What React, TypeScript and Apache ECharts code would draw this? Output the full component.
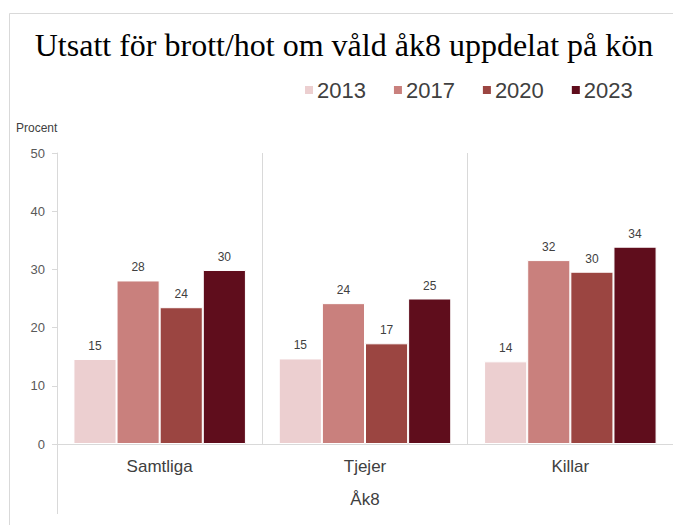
import React, { useEffect, useRef } from "react";
import * as echarts from "echarts";

const categories = ["Samtliga", "Tjejer", "Killar"];
const years = ["2013", "2017", "2020", "2023"];
const values2013 = [14.6, 14.7, 14.2];
const values2017 = [28.1, 24.2, 31.6];
const values2020 = [23.5, 17.3, 29.6];
const values2023 = [29.9, 25.0, 33.9];
const yTicks = [0, 10, 20, 30, 40, 50];
const colors = ["#ECCFD0", "#C9807D", "#9B4541", "#5F0D1C"];

const titleText = "Utsatt för brott/hot om våld åk8 uppdelat på kön";
const axisFont = "'Liberation Sans Narrow', 'Liberation Sans', Arial, sans-serif";

export default function App() {
  const ref = useRef<HTMLDivElement>(null);
  useEffect(() => {
    document.body.style.margin = "0";
    if (!ref.current) return;
    const chart = echarts.init(ref.current, null, { renderer: "svg" });
    const seriesValues = [values2013, values2017, values2020, values2023];
    chart.setOption({
      animation: false,
      backgroundColor: "#ffffff",
      graphic: [
        {
          type: "rect",
          shape: { x: 9.5, y: 13.5, width: 700, height: 600 },
          style: { fill: "none", stroke: "#d9d9d9", lineWidth: 1 },
          silent: true,
        },
        {
          type: "text",
          x: 344,
          y: 45,
          style: {
            text: titleText,
            fontFamily: "'Liberation Serif', 'Times New Roman', serif",
            fontSize: 32,
            fill: "#000000",
            textAlign: "center",
            textVerticalAlign: "middle",
          },
        },
        {
          type: "line",
          shape: { x1: 57.5, y1: 444, x2: 57.5, y2: 514 },
          style: { stroke: "#d9d9d9", lineWidth: 1 },
          silent: true,
        },
        {
          type: "text",
          left: 16,
          top: 122,
          style: { text: "Procent", fontFamily: axisFont, fontSize: 12, fill: "#404040" },
        },
      ],
      legend: {
        data: years,
        left: 298,
        top: 74,
        icon: "rect",
        itemWidth: 10,
        itemHeight: 10,
        itemGap: 26,
        textStyle: {
          fontFamily: "'Liberation Sans', Arial, sans-serif",
          fontSize: 22,
          color: "#404040",
          padding: [0, 0, 0, -2],
        },
      },
      grid: { left: 57, right: -2, top: 153, bottom: 81 },
      xAxis: {
        type: "category",
        data: categories,
        name: "Åk8",
        nameLocation: "middle",
        nameGap: 47,
        nameTextStyle: { fontFamily: axisFont, fontSize: 17, color: "#404040" },
        axisLine: { show: true, lineStyle: { color: "#d9d9d9", width: 1 } },
        axisTick: { show: false },
        axisLabel: { fontFamily: axisFont, fontSize: 17, color: "#404040", margin: 14 },
        splitLine: { show: true, lineStyle: { color: "#d9d9d9", width: 1 } },
      },
      yAxis: {
        type: "value",
        min: yTicks[0],
        max: yTicks[yTicks.length - 1],
        interval: 10,
        axisLine: { show: true, lineStyle: { color: "#d9d9d9", width: 1 } },
        axisTick: { show: true, length: 5, lineStyle: { color: "#d9d9d9" } },
        axisLabel: { fontFamily: axisFont, fontSize: 13, color: "#595959", margin: 12 },
        splitLine: { show: false },
      },
      series: years.map((y, i) => ({
        name: y,
        type: "bar",
        data: seriesValues[i],
        barGap: "0%",
        barCategoryGap: "16%",
        itemStyle: { color: colors[i], borderColor: "#ffffff", borderWidth: 1 },
        label: {
          show: true,
          position: "top",
          distance: 7,
          fontFamily: axisFont,
          fontSize: 12,
          color: "#404040",
          formatter: (p: any) => String(Math.round(p.value)),
        },
      })),
    });
    return () => chart.dispose();
  }, []);
  return <div ref={ref} style={{ width: 673, height: 525 }} />;
}
